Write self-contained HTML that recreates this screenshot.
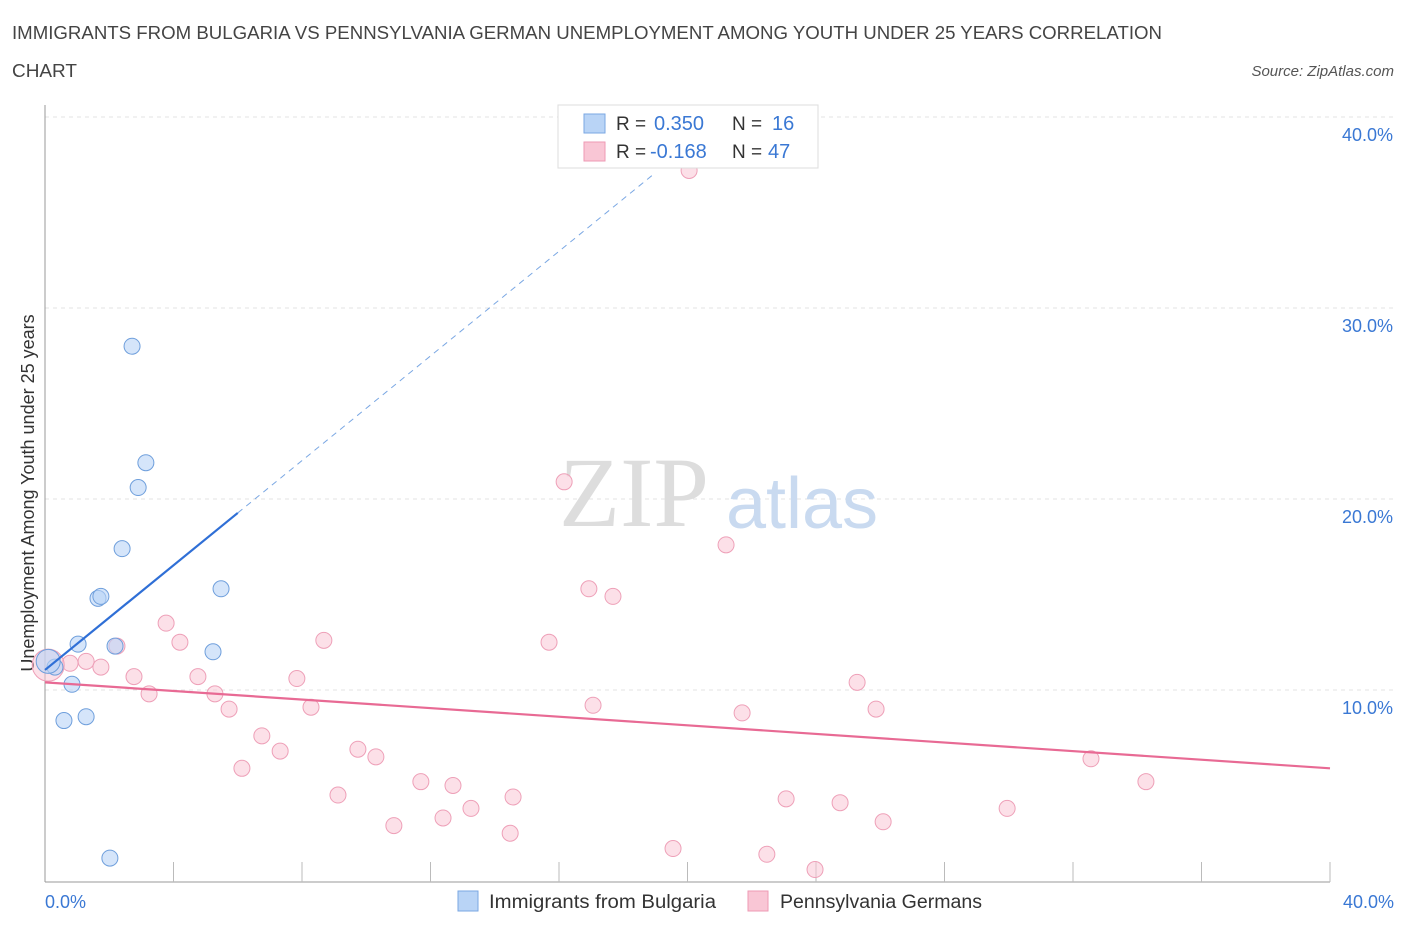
<!DOCTYPE html>
<html><head><meta charset="utf-8"><style>
body{margin:0;background:#fff;font-family:"Liberation Sans",sans-serif;}
svg text{font-family:"Liberation Sans",sans-serif;}
</style></head><body>
<svg id="c" width="1406" height="930" xmlns="http://www.w3.org/2000/svg">
<text x="12" y="39" font-size="18" fill="#444" textLength="1150" lengthAdjust="spacingAndGlyphs">IMMIGRANTS FROM BULGARIA VS PENNSYLVANIA GERMAN UNEMPLOYMENT AMONG YOUTH UNDER 25 YEARS CORRELATION</text>
<text x="12" y="77" font-size="18" fill="#444" textLength="65" lengthAdjust="spacingAndGlyphs">CHART</text>
<text x="1394" y="76" font-size="15" fill="#555" font-style="italic" text-anchor="end">Source: ZipAtlas.com</text>
<g id="grid"></g>
<text x="634" y="526" font-size="100" fill="#ddd" style="font-family:'Liberation Serif',serif" text-anchor="middle">ZIP</text>
<text x="802" y="528" font-size="72" fill="#c9daf0" text-anchor="middle">atlas</text>
<text transform="translate(34,493) rotate(-90)" font-size="18" fill="#333" text-anchor="middle">Unemployment Among Youth under 25 years</text>
<g id="marks"></g>
<g>
<rect x="558" y="105" width="260" height="63" fill="#fff" stroke="#ddd"/>
<rect x="584" y="114" width="21" height="19" fill="#b9d4f6" stroke="#7aa7e3"/>
<rect x="584" y="142" width="21" height="19" fill="#f9c6d5" stroke="#ee9ab4"/>
<text x="616" y="130" font-size="19" fill="#333">R =</text>
<text x="654" y="130" font-size="20" fill="#3a78d4">0.350</text>
<text x="732" y="130" font-size="19" fill="#333">N =</text>
<text x="772" y="130" font-size="20" fill="#3a78d4">16</text>
<text x="616" y="158" font-size="19" fill="#333">R =</text>
<text x="650" y="158" font-size="20" fill="#3a78d4">-0.168</text>
<text x="732" y="158" font-size="19" fill="#333">N =</text>
<text x="768" y="158" font-size="20" fill="#3a78d4">47</text>
</g>
<g>
<rect x="458" y="891" width="20" height="20" fill="#b9d4f6" stroke="#7aa7e3"/>
<text x="489" y="908" font-size="19" fill="#333" textLength="227" lengthAdjust="spacingAndGlyphs">Immigrants from Bulgaria</text>
<rect x="748" y="891" width="20" height="20" fill="#f9c6d5" stroke="#ee9ab4"/>
<text x="780" y="908" font-size="19" fill="#333" textLength="202" lengthAdjust="spacingAndGlyphs">Pennsylvania Germans</text>
</g>
</svg>
<script>
const xTicks=[0,40];
const yTicks=[10,20,30,40];
const blueX=[2.71,3.14,2.90,2.40,1.65,1.74,5.48,1.03,2.18,5.23,0.31,0.84,0.59,1.28,2.02,0.1];
const blueY=[28.0,21.9,20.6,17.4,14.8,14.9,15.3,12.4,12.3,12.0,11.2,10.3,8.4,8.6,1.2,11.5];
const pinkX=[20.05,16.16,21.2,16.93,17.68,3.77,4.2,8.68,15.69,2.24,1.28,0.78,1.74,2.77,4.76,7.84,25.28,3.24,5.29,17.06,5.73,8.28,25.87,21.7,6.75,7.32,9.74,10.3,32.56,6.13,11.7,12.7,34.27,9.12,14.57,23.07,24.75,13.26,29.95,12.39,10.86,26.09,14.48,19.55,22.47,23.97,0.1];
const pinkY=[37.2,20.9,17.6,15.3,14.9,13.5,12.5,12.6,12.5,12.3,11.5,11.4,11.2,10.7,10.7,10.6,10.4,9.8,9.8,9.2,9.0,9.1,9.0,8.8,7.6,6.8,6.9,6.5,6.4,5.9,5.2,5.0,5.2,4.5,4.4,4.3,4.1,3.8,3.8,3.3,2.9,3.1,2.5,1.7,1.4,0.6,11.3];
const blueLine=[11.05,1.37];
const pinkLine=[10.4,-0.1125];
const NS="http://www.w3.org/2000/svg";
const sx=v=>45+v*32.125, sy=v=>881-v*19.1;
function mk(t,a,p){const e=document.createElementNS(NS,t);for(const k in a)e.setAttribute(k,a[k]);p.appendChild(e);return e;}
const g=document.getElementById('grid'), m=document.getElementById('marks');
yTicks.forEach(t=>{
 const l=mk('line',{x1:45,x2:1394,y1:sy(t),y2:sy(t),stroke:'#e3e3e3','stroke-dasharray':'4,4'},g);
 
 
 const tx=mk('text',{x:1393,y:sy(t)+24,'font-size':18,fill:'#3a78d4','text-anchor':'end'},g);tx.textContent=t.toFixed(1)+'%';
 
 
});
const ax=mk('line',{x1:45,x2:45,y1:105,y2:882,stroke:'#999'},g);


const bx=mk('line',{x1:45,x2:1330,y1:882,y2:882,stroke:'#999'},g);


for(let i=1;i<=10;i++){const t=mk('line',{x1:sx(i*4),x2:sx(i*4),y1:862,y2:882,stroke:'#bbb'},g);
 
 }
xTicks.forEach(t=>{const tx=mk('text',{x:t==0?45:1394,y:908,'font-size':18,fill:'#3a78d4','text-anchor':t==0?'start':'end'},g);tx.textContent=t.toFixed(1)+'%';
 
 });
pinkX.forEach((x,i)=>{const c=mk('circle',{cx:sx(x),cy:sy(pinkY[i]),r:i==pinkX.length-1?16:8,fill:'rgba(249,198,213,0.55)',stroke:'#eea0b8','stroke-width':1},m);
 
 });
blueX.forEach((x,i)=>{const c=mk('circle',{cx:sx(x),cy:sy(blueY[i]),r:i==blueX.length-1?12:8,fill:'rgba(185,212,246,0.6)',stroke:'#6f9fdc','stroke-width':1},m);
 
 });
const bs=mk('line',{x1:sx(0),y1:sy(blueLine[0]),x2:sx(6),y2:sy(blueLine[0]+6*blueLine[1]),stroke:'#2f6fd6','stroke-width':2.2},m);


const bd=mk('line',{x1:sx(6),y1:sy(blueLine[0]+6*blueLine[1]),x2:sx(19),y2:sy(blueLine[0]+19*blueLine[1]),stroke:'#7aa7e3','stroke-width':1,'stroke-dasharray':'6,5'},m);


const pl=mk('line',{x1:sx(0),y1:sy(pinkLine[0]),x2:sx(40),y2:sy(pinkLine[0]+40*pinkLine[1]),stroke:'#e86a94','stroke-width':2.2},m);


</script>
</body></html>
